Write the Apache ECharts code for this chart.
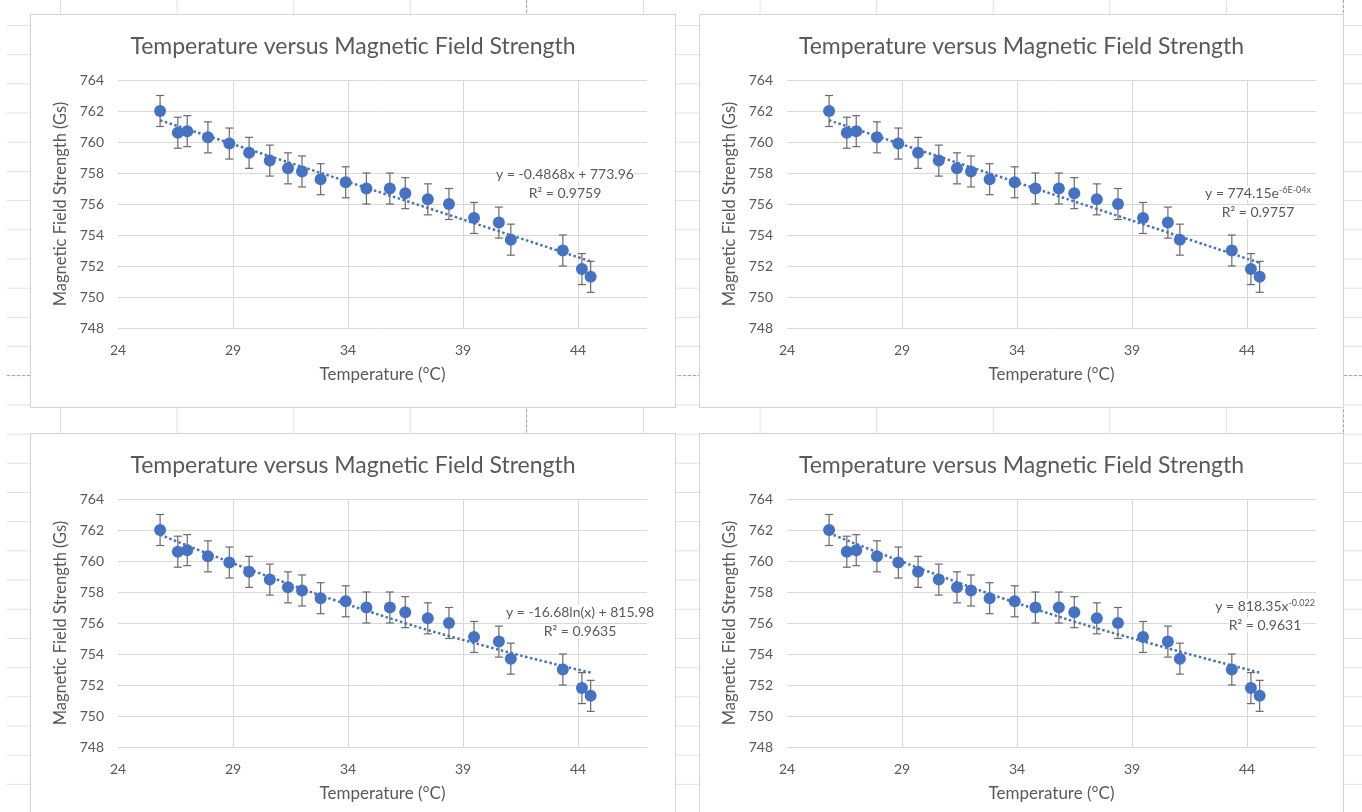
<!DOCTYPE html>
<html>
<head>
<meta charset="utf-8">
<title>Temperature versus Magnetic Field Strength</title>
<script src="https://cdn.jsdelivr.net/npm/echarts@6/dist/echarts.min.js"></script>
<style>
  html, body { margin: 0; padding: 0; width: 1362px; height: 812px; overflow: hidden; background: #fff; }
  #sheet {
    position: absolute; left: 7px; top: 0; width: 1355px; height: 812px;
    background-image:
      linear-gradient(to right, #e1e1e1 1px, transparent 1px),
      linear-gradient(to bottom, #e1e1e1 1px, transparent 1px);
    background-size: 116.6px 29.2px;
    background-position: 53px 25px;
  }
  .pb-h { position: absolute; height: 0; border-top: 1px dashed #a8a8a8; }
  .pb-v { position: absolute; width: 0; border-left: 1px dashed #a8a8a8; }
  .box { position: absolute; background: #fff; border: 1px solid #d4d4d4; box-sizing: border-box; }
</style>
</head>
<body>
<div id="sheet"></div>
<div class="pb-h" style="left:7px;top:375px;width:1355px"></div>
<div class="pb-v" style="left:526px;top:0;height:812px"></div>
<div class="pb-v" style="left:1343px;top:0;height:812px"></div>
<div class="box" id="c1" style="left:30px;top:14px;width:646px;height:394px"></div>
<div class="box" id="c2" style="left:699px;top:14px;width:645px;height:394px"></div>
<div class="box" id="c3" style="left:30px;top:433px;width:646px;height:392px"></div>
<div class="box" id="c4" style="left:699px;top:433px;width:645px;height:392px"></div>
<script>
// measured temperatures (°C) and field strengths (Gs)
const temperature = [25.83, 26.60, 27.01, 27.91, 28.84, 29.70, 30.60, 31.39, 32.00, 32.81, 33.90,
  34.80, 35.82, 36.49, 37.47, 38.39, 39.48, 40.56, 41.08, 43.34, 44.17, 44.55];
const fieldStrength = [762.0, 760.6, 760.7, 760.3, 759.9, 759.3, 758.8, 758.3, 758.1, 757.6, 757.4,
  757.0, 757.0, 756.7, 756.3, 756.0, 755.1, 754.8, 753.7, 753.0, 751.8, 751.3];
const yError = 1;

// trendlines
const linearTrendX = [25.83, 44.55];
const linearTrendY = [761.4, 752.3];
const expTrendX = [25.83, 35.2, 44.55];
const expTrendY = [761.4, 756.8, 752.2];
const logTrendX = [25.83, 30, 35, 40, 44.55];
const logTrendY = [761.7, 759.3, 756.7, 754.5, 752.8];
const powerTrendX = [25.83, 30, 35, 40, 44.55];
const powerTrendY = [761.8, 759.4, 756.8, 754.6, 752.8];

const xTicks = { min: 24, max: 47, interval: 5 };
const yTicks = { min: 748, max: 764, interval: 2 };

const titleText = 'Temperature versus Magnetic Field Strength';
const xTitle = 'Temperature (°C)';
const yTitle = 'Magnetic Field Strength (Gs)';

const FONT = 'Lato, "Open Sans", sans-serif';
const GRAY = '#595959';
const BLUE = '#4472C4';

const makeChart = (id, trendX, trendY, smooth, eqLines, eqPos) => {
  const chart = echarts.init(document.getElementById(id), null, { renderer: 'canvas' });
  const errorData = temperature.map((t, i) => [t, fieldStrength[i] - yError, fieldStrength[i] + yError]);
  const eqStyle = { fill: GRAY, font: '14px ' + FONT, align: 'center', verticalAlign: 'middle', backgroundColor: '#fff' };
  chart.setOption({
    animation: false,
    title: {
      text: titleText,
      left: 'center',
      top: 20,
      padding: 0,
      textStyle: { fontFamily: FONT, fontSize: 23, fontWeight: 'normal', color: GRAY }
    },
    grid: { left: 87, top: 65, width: 529, height: 248, containLabel: false },
    xAxis: {
      type: 'value',
      min: xTicks.min,
      max: xTicks.max,
      interval: xTicks.interval,
      name: xTitle,
      nameLocation: 'middle',
      nameGap: 38,
      nameTextStyle: { fontFamily: FONT, fontSize: 17, color: GRAY },
      axisLine: { show: false },
      axisTick: { show: false },
      axisLabel: { fontFamily: FONT, fontSize: 14, color: GRAY, margin: 15, showMaxLabel: false },
      splitLine: { show: true, showMinLine: false, showMaxLine: false, lineStyle: { color: '#d9d9d9', width: 1 } }
    },
    yAxis: {
      type: 'value',
      min: yTicks.min,
      max: yTicks.max,
      interval: yTicks.interval,
      name: yTitle,
      nameLocation: 'middle',
      nameGap: 45,
      nameTextStyle: { fontFamily: FONT, fontSize: 16.5, color: GRAY },
      axisLine: { show: false },
      axisTick: { show: false },
      axisLabel: { fontFamily: FONT, fontSize: 14, color: GRAY, margin: 14 },
      splitLine: { show: true, lineStyle: { color: '#d9d9d9', width: 1 } }
    },
    graphic: [
      {
        type: 'text', x: eqPos[0], y: eqPos[1], z: 10,
        style: Object.assign({}, eqStyle, {
          text: eqLines[0],
          rich: {
            n: { fontFamily: FONT, fontSize: 14, color: GRAY },
            s: { fontFamily: FONT, fontSize: 9, color: GRAY, verticalAlign: 'top' }
          }
        })
      },
      {
        type: 'text', x: eqPos[0], y: eqPos[1] + 19, z: 10,
        style: Object.assign({}, eqStyle, { text: eqLines[1] })
      }
    ],
    series: [
      {
        type: 'line',
        data: trendX.map((x, i) => [x, trendY[i]]),
        smooth: smooth,
        showSymbol: false,
        silent: true,
        z: 1,
        lineStyle: { color: BLUE, width: 2.5, type: [2.5, 2.5] }
      },
      {
        type: 'custom',
        data: errorData,
        encode: { x: 0, y: [1, 2] },
        z: 2,
        silent: true,
        renderItem: (params, api) => {
          const x = api.value(0);
          const lo = api.coord([x, api.value(1)]);
          const hi = api.coord([x, api.value(2)]);
          const hw = 4;
          const st = { stroke: '#6a6a6a', lineWidth: 1.2 };
          return {
            type: 'group',
            children: [
              { type: 'line', shape: { x1: lo[0], y1: lo[1], x2: hi[0], y2: hi[1] }, style: st },
              { type: 'line', shape: { x1: hi[0] - hw, y1: hi[1], x2: hi[0] + hw, y2: hi[1] }, style: st },
              { type: 'line', shape: { x1: lo[0] - hw, y1: lo[1], x2: lo[0] + hw, y2: lo[1] }, style: st }
            ]
          };
        }
      },
      {
        type: 'scatter',
        data: temperature.map((t, i) => [t, fieldStrength[i]]),
        symbolSize: 12,
        z: 3,
        itemStyle: { color: BLUE, opacity: 1 }
      }
    ]
  });
  return chart;
};

makeChart('c1', linearTrendX, linearTrendY, false,
  ['{n|y = -0.4868x + 773.96}', 'R² = 0.9759'], [534, 159]);
makeChart('c2', expTrendX, expTrendY, true,
  ['{n|y = 774.15e}{s|-6E-04x}', 'R² = 0.9757'], [558, 178]);
makeChart('c3', logTrendX, logTrendY, true,
  ['{n|y = -16.68ln(x) + 815.98}', 'R² = 0.9635'], [549, 178]);
makeChart('c4', powerTrendX, powerTrendY, true,
  ['{n|y = 818.35x}{s|-0.022}', 'R² = 0.9631'], [565, 172]);
</script>
</body>
</html>
